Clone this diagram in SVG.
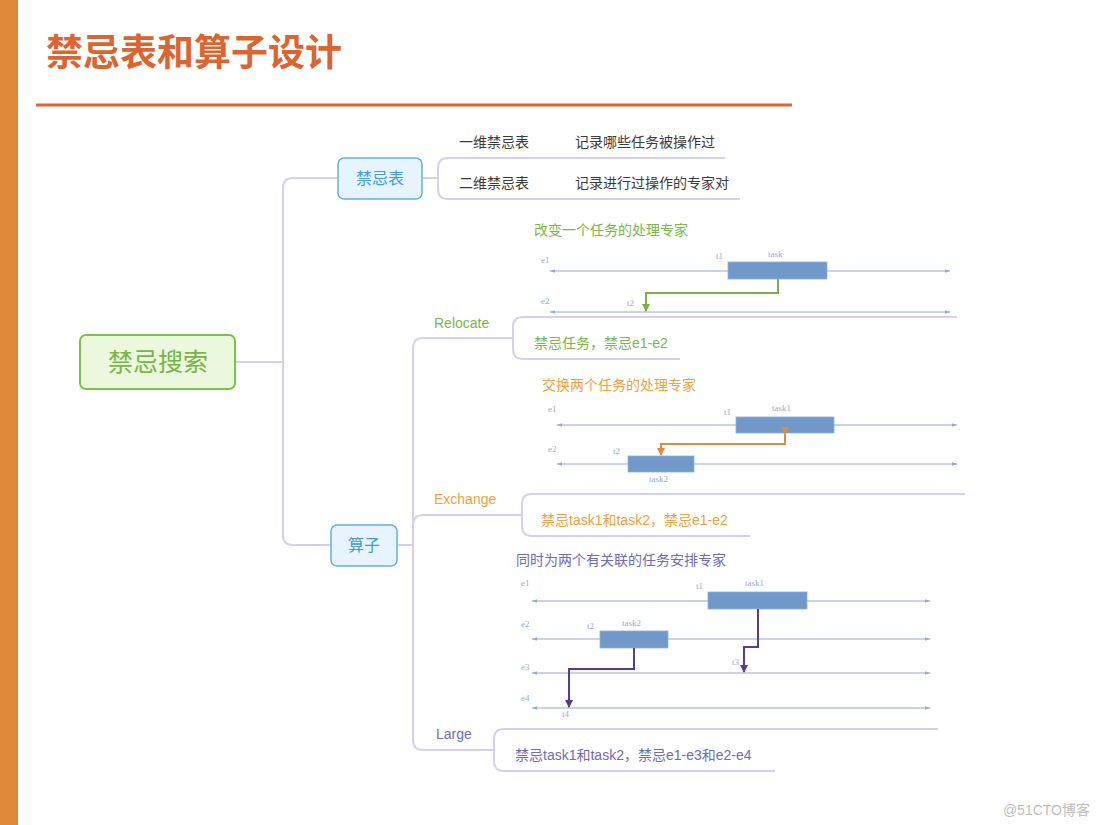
<svg xmlns="http://www.w3.org/2000/svg" width="1098" height="825" viewBox="0 0 1098 825">
<defs>
<style>
text{font-family:"Liberation Sans","Noto Sans CJK SC",sans-serif;}
.conn{fill:none;stroke:#d6cff0;stroke-width:2;}
.lbl{font-size:14px;fill:#3a3a3a;}
.sm{font-family:"Liberation Serif","Noto Sans CJK SC",serif;font-size:9px;fill:#9aaace;}
.lane{stroke:#93a9d4;stroke-width:1;marker-start:url(#la);marker-end:url(#ra);}
.bar{fill:#7099ca;stroke:#8fb0d8;stroke-width:0.8;}
.blue{fill:#e7f3fd;stroke:#62aee8;stroke-width:1.5;}
.bt{font-size:16px;fill:#3d9be0;text-anchor:middle;}
</style>
<marker id="la" viewBox="0 0 6 6" refX="0" refY="3" markerWidth="5" markerHeight="5" orient="auto"><path d="M6,0.8 L0,3 L6,5.2z" fill="#93a9d4"/></marker>
<marker id="ra" viewBox="0 0 6 6" refX="6" refY="3" markerWidth="5" markerHeight="5" orient="auto"><path d="M0,0.8 L6,3 L0,5.2z" fill="#93a9d4"/></marker>
<marker id="ag" viewBox="0 0 8 8" refX="7" refY="4" markerWidth="4" markerHeight="4" orient="auto"><path d="M0,0 L8,4 L0,8z" fill="#7cae4a"/></marker>
<marker id="ao" viewBox="0 0 8 8" refX="7" refY="4" markerWidth="4" markerHeight="4" orient="auto"><path d="M0,0 L8,4 L0,8z" fill="#e08a45"/></marker>
<marker id="ap" viewBox="0 0 8 8" refX="7" refY="4" markerWidth="4" markerHeight="4" orient="auto"><path d="M0,0 L8,4 L0,8z" fill="#5a3a92"/></marker>
</defs>
<rect x="0" y="0" width="1098" height="825" fill="#ffffff"/>
<rect x="0" y="0" width="18" height="825" fill="#de8a3a"/>
<text x="46" y="66" font-size="37" font-weight="bold" fill="#dc6430">禁忌表和算子设计</text>
<rect x="36" y="103.5" width="756" height="3" fill="#e0652d"/>

<g id="connectors">
<path class="conn" d="M235,362 H283"/>
<path class="conn" d="M338,178 H293 Q283,178 283,188 V535 Q283,545 293,545 H331"/>
<path class="conn" d="M422,178 H438"/>
<path class="conn" d="M725,158 H448 Q438,158 438,168 V189 Q438,199 448,199 H740"/>
<path class="conn" d="M397,545 H413"/>
<path class="conn" d="M513,338 H423 Q413,338 413,348 V740 Q413,750 423,750 H494"/>
<path class="conn" d="M413,525 Q413,515 423,515 H522"/>
<path class="conn" d="M957,317 H523 Q513,317 513,327 V349 Q513,359 523,359 H680"/>
<path class="conn" d="M965,494 H532 Q522,494 522,504 V526 Q522,536 532,536 H750"/>
<path class="conn" d="M938,729 H504 Q494,729 494,739 V761 Q494,771 504,771 H775"/>
</g>

<g id="root">
<rect x="80" y="335" width="155" height="54" rx="6" fill="#ebf8dd" stroke="#7cc24a" stroke-width="2"/>
<text x="158" y="371" font-size="25" fill="#78b44a" text-anchor="middle">禁忌搜索</text>
</g>

<g id="tabu">
<rect class="blue" x="338" y="158" width="84" height="41" rx="6"/>
<text class="bt" x="380" y="184">禁忌表</text>
</g>
<g id="tabu1">
<text class="lbl" x="459" y="147">一维禁忌表</text>
<text class="lbl" x="575" y="147">记录哪些任务被操作过</text>
</g>
<g id="tabu2">
<text class="lbl" x="459" y="188">二维禁忌表</text>
<text class="lbl" x="575" y="188">记录进行过操作的专家对</text>
</g>

<g id="ops">
<rect class="blue" x="331" y="525" width="66" height="41" rx="6"/>
<text class="bt" x="364" y="551">算子</text>
</g>

<g id="relocate">
<text x="434" y="328" font-size="14" fill="#7ab648">Relocate</text>
<text x="534" y="235" font-size="14" fill="#7ab648">改变一个任务的处理专家</text>
<text class="sm" x="541" y="263">e1</text>
<text class="sm" x="716" y="259">t1</text>
<text class="sm" x="768" y="257">task</text>
<line class="lane" x1="550" y1="271" x2="950" y2="271"/>
<rect class="bar" x="728" y="262" width="99" height="17"/>
<text class="sm" x="541" y="304">e2</text>
<text class="sm" x="627" y="306">t2</text>
<line class="lane" x1="550" y1="312" x2="950" y2="312"/>
<path d="M778,279 V293 H646 V311" fill="none" stroke="#7cae4a" stroke-width="2" marker-end="url(#ag)"/>
<text x="534" y="348" font-size="14" fill="#7ab648">禁忌任务，禁忌e1-e2</text>
</g>

<g id="exchange">
<text x="434" y="504" font-size="14" fill="#f0a040">Exchange</text>
<text x="542" y="390" font-size="14" fill="#f0a040">交换两个任务的处理专家</text>
<text class="sm" x="548" y="412">e1</text>
<text class="sm" x="724" y="415">t1</text>
<text class="sm" x="772" y="411">task1</text>
<line class="lane" x1="557" y1="425" x2="957" y2="425"/>
<rect class="bar" x="736" y="417" width="98" height="16"/>
<text class="sm" x="548" y="452">e2</text>
<text class="sm" x="613" y="454">t2</text>
<line class="lane" x1="557" y1="464" x2="957" y2="464"/>
<rect class="bar" x="628" y="456" width="66" height="16"/>
<text class="sm" x="649" y="482">task2</text>
<path d="M785,434 V444 H661 V455" fill="none" stroke="#e08a45" stroke-width="2" marker-start="url(#ao)" marker-end="url(#ao)"/>
<text x="541" y="525" font-size="14" fill="#f0a040">禁忌task1和task2，禁忌e1-e2</text>
</g>

<g id="large">
<text x="436" y="739" font-size="14" fill="#6f6bb8">Large</text>
<text x="516" y="565" font-size="14" fill="#6f6bb8">同时为两个有关联的任务安排专家</text>
<text class="sm" x="521" y="586">e1</text>
<text class="sm" x="696" y="589">t1</text>
<text class="sm" x="745" y="586">task1</text>
<line class="lane" x1="532" y1="601" x2="930" y2="601"/>
<rect class="bar" x="708" y="592" width="99" height="17"/>
<text class="sm" x="521" y="627">e2</text>
<text class="sm" x="587" y="629">t2</text>
<text class="sm" x="622" y="626">task2</text>
<line class="lane" x1="532" y1="639" x2="930" y2="639"/>
<rect class="bar" x="600" y="631" width="68" height="17"/>
<text class="sm" x="521" y="670">e3</text>
<text class="sm" x="732" y="665">t3</text>
<line class="lane" x1="532" y1="673" x2="930" y2="673"/>
<text class="sm" x="521" y="701">e4</text>
<line class="lane" x1="532" y1="708" x2="930" y2="708"/>
<text class="sm" x="562" y="717">t4</text>
<path d="M758,609 V647 H744 V672" fill="none" stroke="#5a3a92" stroke-width="2" marker-end="url(#ap)"/>
<path d="M634,648 V669 H569 V707" fill="none" stroke="#5a3a92" stroke-width="2" marker-end="url(#ap)"/>
<text x="515" y="760" font-size="14" fill="#6f6bb8">禁忌task1和task2，禁忌e1-e3和e2-e4</text>
</g>

<text x="1090" y="815" font-size="14" fill="#bdbdbd" text-anchor="end">@51CTO博客</text>
</svg>
